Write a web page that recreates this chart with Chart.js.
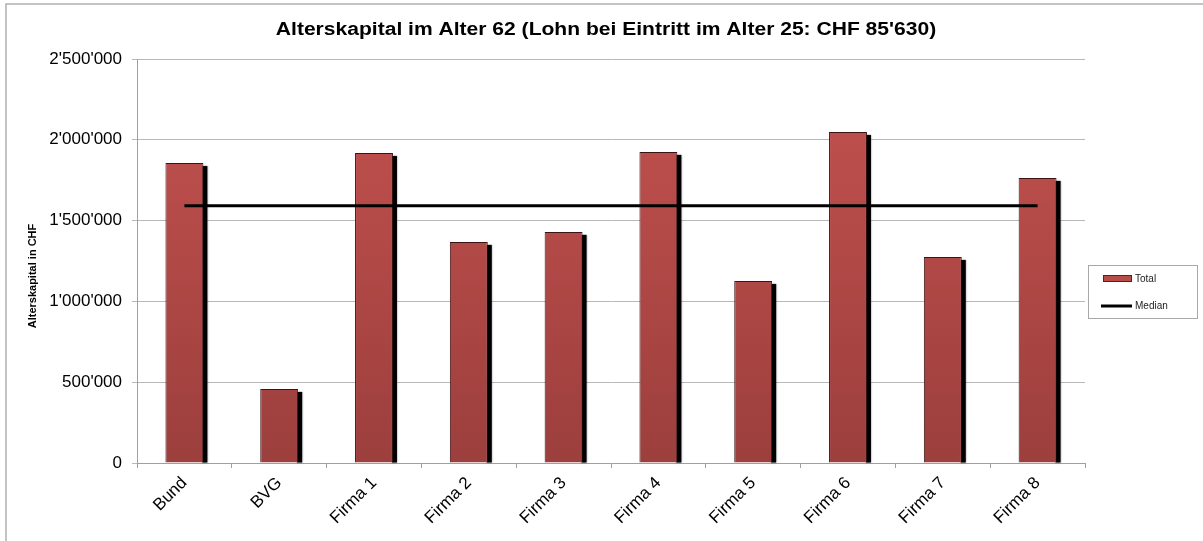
<!DOCTYPE html>
<html>
<head>
<meta charset="utf-8">
<script src="https://cdn.jsdelivr.net/npm/chart.js@4/dist/chart.umd.min.js"></script>
<style>
  html, body { margin: 0; padding: 0; background: #fff; }
  #wrap { width: 1203px; height: 541px; }
</style>
</head>
<body>
<div id="wrap"><canvas id="kapital-chart" width="1203" height="541"></canvas></div>
<script>
var titleText = "Alterskapital im Alter 62 (Lohn bei Eintritt im Alter 25: CHF 85'630)";
var yAxisTitle = 'Alterskapital in CHF';
var kassen = ['Bund', 'BVG', 'Firma 1', 'Firma 2', 'Firma 3', 'Firma 4', 'Firma 5', 'Firma 6', 'Firma 7', 'Firma 8'];
var totalKapital = [1856000, 458000, 1918000, 1368000, 1430000, 1925000, 1126000, 2048000, 1275000, 1764000];
var medianKapital = [1592000, 1592000, 1592000, 1592000, 1592000, 1592000, 1592000, 1592000, 1592000, 1592000];
var yTicks = [0, 500000, 1000000, 1500000, 2000000, 2500000];

var FONT = '"Liberation Sans", Arial, sans-serif';

function chf(v) {
    return String(v).replace(/\B(?=(\d{3})+(?!\d))/g, "'");
}

// red bars, darker towards the axis
function barFill(context) {
    var area = context.chart.chartArea;
    if (!area) return '#b04a47';
    var g = context.chart.ctx.createLinearGradient(0, area.top, 0, area.bottom);
    g.addColorStop(0, '#c4524f');
    g.addColorStop(1, '#9c3f3d');
    return g;
}

// frame, bar shadows, title, axis title and legend box
var decor = {
    id: 'decor',
    beforeDraw: function (chart) {
        var c = chart.ctx;
        c.save();
        c.strokeStyle = '#b0b0b0';
        c.lineWidth = 1.5;
        c.beginPath();
        c.moveTo(6, chart.height);
        c.lineTo(6, 4);
        c.lineTo(chart.width, 4);
        c.stroke();
        c.restore();
    },
    beforeDatasetDraw: function (chart, args) {
        if (args.meta.type !== 'bar') return;
        var c = chart.ctx;
        c.save();
        c.fillStyle = '#000';
        c.shadowColor = 'rgba(0,0,0,0.6)';
        c.shadowBlur = 2;
        args.meta.data.forEach(function (bar) {
            var p = bar.getProps(['x', 'y', 'width', 'base'], true);
            var right = p.x + p.width / 2;
            c.fillRect(right - 1, p.y + 3, 5, p.base - p.y - 3);
        });
        c.restore();
    },
    afterDraw: function (chart) {
        var c = chart.ctx;
        c.save();
        c.fillStyle = '#000';
        c.textAlign = 'center';
        c.textBaseline = 'middle';
        c.font = 'bold 18px ' + FONT;
        c.translate(606, 30);
        c.scale(1.17, 1);
        c.fillText(titleText, 0, 0);
        c.restore();

        c.save();
        c.fillStyle = '#000';
        c.textAlign = 'center';
        c.textBaseline = 'middle';
        c.translate(33, 276);
        c.rotate(-Math.PI / 2);
        c.font = 'bold 11px ' + FONT;
        c.fillText(yAxisTitle, 0, 0);
        c.restore();

        // legend
        c.save();
        c.strokeStyle = '#a8a8a8';
        c.lineWidth = 1;
        c.strokeRect(1088.5, 265.5, 109, 53);
        c.fillStyle = '#b84c49';
        c.strokeStyle = '#5a2020';
        c.fillRect(1103, 275, 29, 7);
        c.strokeRect(1103.5, 275.5, 28, 6);
        c.strokeStyle = '#000';
        c.lineWidth = 3;
        c.beginPath();
        c.moveTo(1101, 306);
        c.lineTo(1132, 306);
        c.stroke();
        c.fillStyle = '#222';
        c.font = '10px ' + FONT;
        c.textAlign = 'left';
        c.textBaseline = 'middle';
        c.fillText(chart.data.datasets[0].label, 1135, 279);
        c.fillText(chart.data.datasets[1].label, 1135, 306);
        c.restore();
    }
};

document.addEventListener("DOMContentLoaded", function () {
    var ctx = document.getElementById('kapital-chart');
    new Chart(ctx.getContext('2d'), {
        data: {
            labels: kassen,
            datasets: [{
                type: 'bar',
                label: 'Total',
                data: totalKapital,
                backgroundColor: barFill,
                borderColor: '#3a1414',
                borderWidth: 1,
                barPercentage: 0.8,
                categoryPercentage: 0.5,
                order: 1
            }, {
                type: 'line',
                label: 'Median',
                data: medianKapital,
                borderColor: '#000',
                borderWidth: 3,
                pointRadius: 0,
                fill: false,
                order: 0
            }]
        },
        options: {
            responsive: false,
            animation: false,
            layout: { padding: { left: 0, right: 118, top: 59, bottom: 0 } },
            plugins: {
                legend: { display: false },
                title: { display: false },
                tooltip: { enabled: false }
            },
            scales: {
                x: {
                    offset: true,
                    grid: { display: true, drawOnChartArea: false, offset: true, tickLength: 5, color: '#a0a0a0' },
                    border: { color: '#a0a0a0' },
                    ticks: {
                        minRotation: 45,
                        maxRotation: 45,
                        padding: 5,
                        color: '#000',
                        font: { family: FONT, size: 17 }
                    },
                    afterFit: function (scale) { scale.height = 78; }
                },
                y: {
                    min: 0,
                    max: 2500000,
                    afterBuildTicks: function (scale) {
                        scale.ticks = yTicks.map(function (v) { return { value: v }; });
                    },
                    grid: { color: '#b8b8b8', tickLength: 5 },
                    border: { color: '#a0a0a0' },
                    ticks: {
                        padding: 10,
                        color: '#000',
                        font: { family: FONT, size: 17 },
                        callback: function (v) { return chf(v); }
                    },
                    afterFit: function (scale) { scale.width = 137; }
                }
            }
        },
        plugins: [decor]
    });
});
</script>
</body>
</html>
